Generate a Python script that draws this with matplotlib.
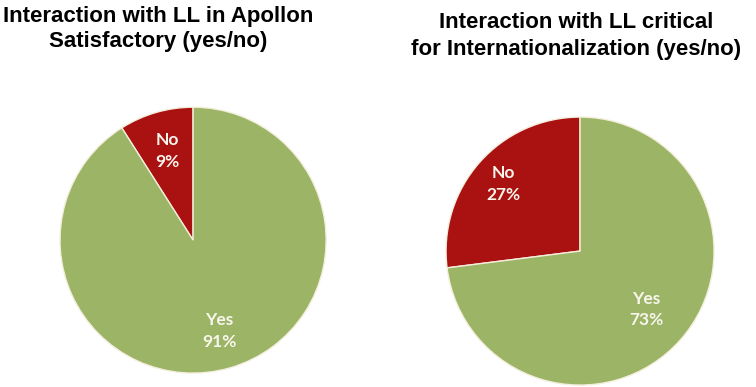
import numpy as np
import matplotlib
matplotlib.use("Agg")
import matplotlib.pyplot as plt

categories = ["No", "Yes"]
left_values = [9, 91]
right_values = [27, 73]
titles = ["Interaction with LL in Apollon\nSatisfactory (yes/no)",
          "Interaction with LL critical\nfor Internationalization (yes/no)"]
colors = ["#AA1212", "#9BB466"]

fig = plt.figure(figsize=(7.56, 3.87), dpi=100)

ax_l = fig.add_axes([0.0794, 0.036, 0.352, 0.687])
ax_r = fig.add_axes([0.590, 0.005, 0.3545, 0.6925])

label_factors = [[0.70, 0.71], [0.76, 0.66]]

for ax, vals, facs in zip([ax_l, ax_r], [left_values, right_values], label_factors):
    wedges, _ = ax.pie(vals, colors=colors, startangle=90, counterclock=True,
                       wedgeprops=dict(edgecolor="#F4EEDC", linewidth=1.0))
    for w, cat, v, f in zip(wedges, categories, vals, facs):
        ang = np.deg2rad((w.theta1 + w.theta2) / 2)
        ax.text(f * np.cos(ang), f * np.sin(ang), f"{cat}\n{v}%",
                ha="center", va="center", color="#F8F6EC",
                fontsize=12.5, fontweight="bold", family="Lato", linespacing=1.45)
    ax.set_xlim(-1, 1)
    ax.set_ylim(-1, 1)
    ax.set_aspect("auto")

fig.text(158 / 756, 1 - 29 / 387, titles[0], ha="center", va="center",
         fontsize=16, fontweight="bold", family="Liberation Sans", linespacing=1.3)
fig.text(576 / 756, 1 - 36 / 387, titles[1], ha="center", va="center",
         fontsize=16, fontweight="bold", family="Liberation Sans", linespacing=1.38)

fig.savefig("out.png", dpi=100)
